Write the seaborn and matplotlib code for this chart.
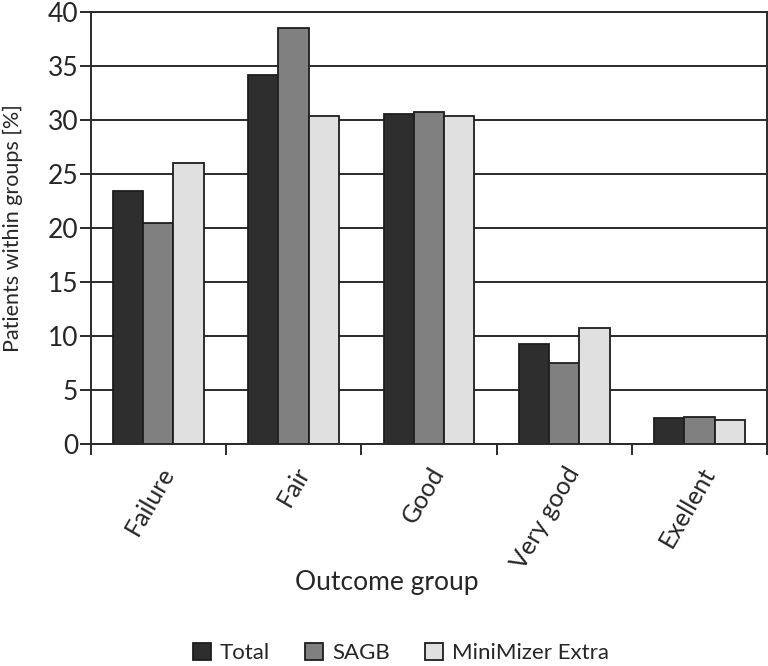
import pandas as pd
import seaborn as sns
import matplotlib.pyplot as plt
from matplotlib.ticker import FixedLocator

# данные
outcomes = ['Failure', 'Fair', 'Good', 'Very good', 'Exellent']
groups = ['Total', 'SAGB', 'MiniMizer Extra']
total = [23.45, 34.2, 30.5, 9.25, 2.4]
sagb = [20.45, 38.5, 30.7, 7.5, 2.45]
minimizer = [26.0, 30.4, 30.4, 10.7, 2.15]
y_ticks = [0, 5, 10, 15, 20, 25, 30, 35, 40]

df = pd.DataFrame({
    'outcome': outcomes * 3,
    'group': [groups[0]] * 5 + [groups[1]] * 5 + [groups[2]] * 5,
    'pct': total + sagb + minimizer,
})

sns.set_style('white')
plt.rcParams['font.family'] = ['Lato', 'DejaVu Sans']

fig = plt.figure(figsize=(7.68, 6.66), dpi=100)
ax = fig.add_axes([0.118, 0.334, 0.881, 0.648])

palette = {'Total': '#2e2e2e', 'SAGB': '#808080', 'MiniMizer Extra': '#e0e0e0'}
sns.barplot(data=df, x='outcome', y='pct', hue='group', order=outcomes,
            hue_order=groups, palette=palette, width=0.67, gap=0,
            edgecolor='#1e1e1e', linewidth=1.3, saturation=1, ax=ax)

ax.set_ylim(0, 40)
ax.set_xlim(-0.5, 4.5)
ax.set_yticks(y_ticks)
ax.yaxis.grid(True, color='#2a2a2a', linewidth=1.4)
ax.set_axisbelow(True)
for side in ['left', 'right', 'bottom', 'top']:
    ax.spines[side].set_visible(True)
    ax.spines[side].set_color('#2a2a2a')
    ax.spines[side].set_linewidth(1.4)

ax.tick_params(axis='y', which='major', direction='out', length=8, width=1.4,
               color='#2a2a2a', labelsize=19, left=True, pad=1)
ax.tick_params(axis='x', which='major', length=0, labelsize=18, pad=14)
ax.xaxis.set_minor_locator(FixedLocator([-0.5, 0.5, 1.5, 2.5, 3.5, 4.5]))
ax.tick_params(axis='x', which='minor', direction='out', length=8, width=1.4,
               color='#2a2a2a', bottom=True)
plt.setp(ax.get_xticklabels(), rotation=60, ha='right', rotation_mode='anchor')

ax.set_xlabel('Outcome group', fontsize=19)
ax.xaxis.set_label_coords(0.438, -0.292)
ax.set_ylabel('Patients within groups [%]', fontsize=15.5)
ax.yaxis.set_label_coords(-0.1, 0.5)

ax.legend_.remove()
handles, labels = ax.get_legend_handles_labels()
fig.legend(handles, labels, loc='lower center', bbox_to_anchor=(0.522, -0.026),
           ncol=3, frameon=False, fontsize=16, handlelength=0.8, handleheight=0.8,
           handletextpad=0.4, columnspacing=1.6)

fig.savefig('out.png', dpi=100)
